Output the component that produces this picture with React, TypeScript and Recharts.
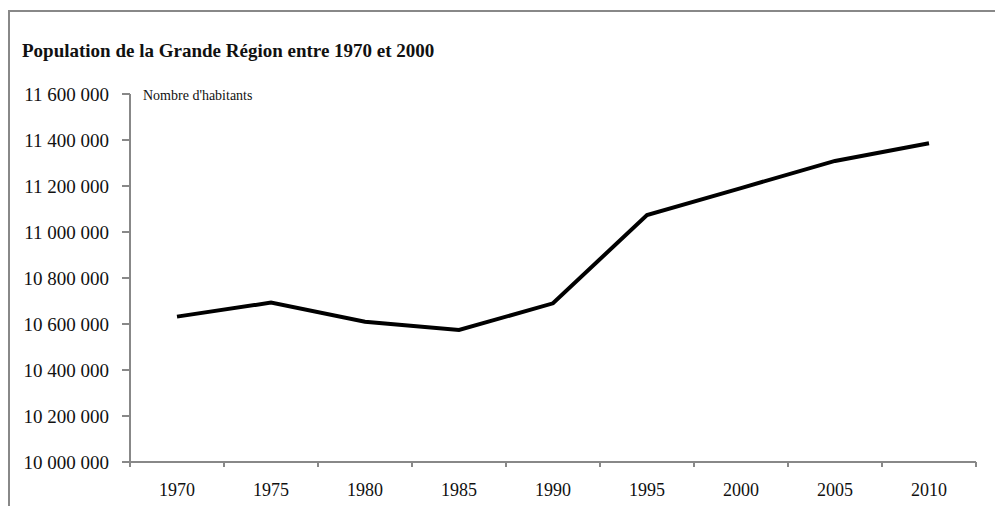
import React from 'react'
import { LineChart, Line, XAxis, YAxis } from 'recharts'

const years = ['1970', '1975', '1980', '1985', '1990', '1995', '2000', '2005', '2010']
const population = [10632000, 10693000, 10610000, 10574000, 10690000, 11074000, 11191000, 11309000, 11386000]
const yTicks = [10000000, 10200000, 10400000, 10600000, 10800000, 11000000, 11200000, 11400000, 11600000]

const data = years.map((year, i) => ({ year, population: population[i] }))

const W = 995
const H = 506
const Y_AXIS_W = 100
const X_AXIS_H = 40
const margin = { top: 94, right: 19, bottom: 4, left: 30 }
const plotLeft = margin.left + Y_AXIS_W
const plotRight = W - margin.right
const axisY = H - margin.bottom - X_AXIS_H
const step = (plotRight - plotLeft) / years.length

const FONT = "'Liberation Serif', 'DejaVu Serif', serif"
const AXIS = '#888888'

const fmt = (v: number) => v.toString().replace(/\B(?=(\d{3})+(?!\d))/g, ' ')

function YearTick(props: any) {
  const { x, y, payload, index } = props
  const left = x - step / 2
  return (
    <g>
      <line x1={left} y1={axisY} x2={left} y2={axisY + 5} stroke={AXIS} strokeWidth={2} />
      {index === years.length - 1 && (
        <line x1={x + step / 2} y1={axisY} x2={x + step / 2} y2={axisY + 5} stroke={AXIS} strokeWidth={2} />
      )}
      <text x={x} y={y} dy="0.71em" textAnchor="middle" fill="#111" fontSize={18} fontFamily={FONT}>
        {payload.value}
      </text>
    </g>
  )
}

export default function App() {
  return (
    <div style={{ position: 'absolute', left: 0, top: 0, width: W, height: H, background: '#fff', overflow: 'hidden' }}>
      <div
        style={{
          position: 'absolute',
          left: 8,
          top: 10,
          right: 0,
          bottom: -10,
          borderTop: `2px solid ${AXIS}`,
          borderLeft: `2px solid ${AXIS}`,
        }}
      />
      <div
        style={{
          position: 'absolute',
          left: 22,
          top: 41,
          fontFamily: FONT,
          fontWeight: 'bold',
          fontSize: 19,
          lineHeight: '19px',
          color: '#111',
          whiteSpace: 'nowrap',
        }}
      >
        Population de la Grande Région entre 1970 et 2000
      </div>
      <div
        style={{
          position: 'absolute',
          left: 143,
          top: 89,
          fontFamily: FONT,
          fontSize: 14,
          lineHeight: '14px',
          color: '#111',
          whiteSpace: 'nowrap',
        }}
      >
        Nombre d'habitants
      </div>
      <div style={{ position: 'absolute', left: 0, top: 0 }}>
        <LineChart width={W} height={H} data={data} margin={margin}>
          <XAxis
            dataKey="year"
            scale="band"
            height={X_AXIS_H}
            interval={0}
            axisLine={{ stroke: AXIS, strokeWidth: 2 }}
            tickLine={false}
            tickSize={6}
            tickMargin={15}
            tick={<YearTick />}
          />
          <YAxis
            width={Y_AXIS_W}
            domain={[10000000, 11600000]}
            ticks={yTicks}
            interval={0}
            tickFormatter={fmt}
            axisLine={{ stroke: AXIS, strokeWidth: 2 }}
            tickLine={{ stroke: AXIS, strokeWidth: 2 }}
            tickSize={8}
            tickMargin={13}
            tick={{ fill: '#111', fontSize: 19, fontFamily: FONT }}
          />
          <Line
            type="linear"
            dataKey="population"
            stroke="#000"
            strokeWidth={4}
            dot={false}
            isAnimationActive={false}
          />
        </LineChart>
      </div>
    </div>
  )
}
